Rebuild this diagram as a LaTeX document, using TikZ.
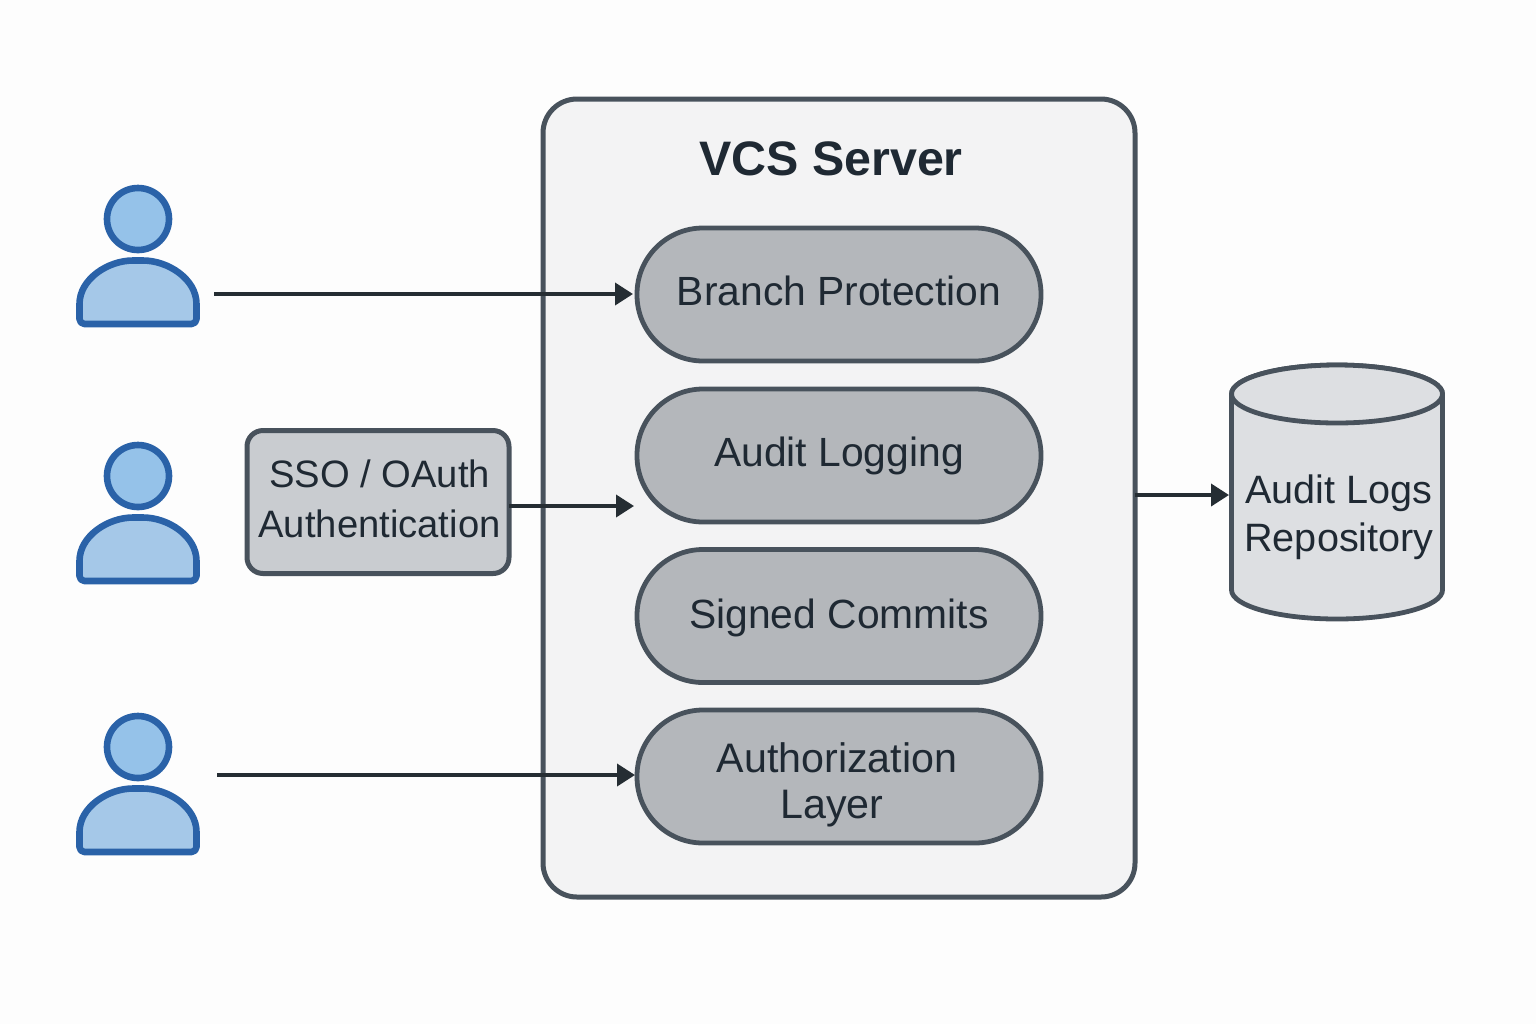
\documentclass[tikz,border=0pt]{standalone}
\usepackage{fontspec}
\setmainfont{Liberation Sans}
\usepackage{xcolor}
\usetikzlibrary{arrows.meta}
\definecolor{pagebg}{HTML}{FDFDFD}
\definecolor{edgegrey}{HTML}{48525C}
\definecolor{servergrey}{HTML}{F3F3F4}
\definecolor{pillgrey}{HTML}{B4B7BB}
\definecolor{ssogrey}{HTML}{C9CCD0}
\definecolor{cylgrey}{HTML}{DDDFE2}
\definecolor{inkdark}{HTML}{1F2933}
\definecolor{arrowdark}{HTML}{252D33}
\definecolor{userblue}{HTML}{2A62A8}
\definecolor{headblue}{HTML}{95C2E9}
\definecolor{bodyblue}{HTML}{A5C8E8}
\tikzset{
    txt/.style={text=inkdark, font=\fontsize{20.4}{24}\selectfont, align=center, inner sep=0pt},
    pill/.style={txt, draw=edgegrey, fill=pillgrey, line width=2.4pt, rounded corners=33pt,
        minimum width=202pt, minimum height=66.5pt, outer sep=0pt, text height=15pt, text depth=4.2pt},
    flow/.style={draw=arrowdark, line width=1.9pt, -{Triangle[length=9pt,width=11pt]}},
    userfig/.pic={
        \draw[userblue, line width=3.3pt, fill=headblue] (0,0) circle (31);
        \draw[userblue, line width=3.3pt, fill=bodyblue, line join=round, rounded corners=2.5pt]
            (-58.5,105) -- (-58.5,90) .. controls (-58.5,60) and (-30,41.5) .. (0,41.5)
            .. controls (30,41.5) and (58.5,60) .. (58.5,90) -- (58.5,105) -- cycle;
    },
}
\begin{document}
\begin{tikzpicture}[x=0.5pt, y=-0.5pt]
    \fill[pagebg] (0,0) rectangle (1536,1024);
    % users
    \pic at (138,219) {userfig};
    \pic at (138,476) {userfig};
    \pic at (138,747) {userfig};
    \coordinate (userA) at (214,294);
    \coordinate (userC) at (217,775);
    % server with its four layers
    \node[draw=edgegrey, fill=servergrey, line width=2.5pt, rounded corners=17pt, outer sep=0pt,
        minimum width=296pt, minimum height=399pt] (server) at (839,498) {};
    \node[txt, font=\fontsize{24.2}{28}\selectfont\bfseries] (title) at (831,159) {VCS Server};
    \node[pill] (branch) at (839,294.5) {Branch Protection};
    \node[pill] (audit) at (839,455.5) {Audit Logging};
    \node[pill, text height=16.5pt] (signed) at (839,616) {Signed Commits};
    \node[pill] (authz) at (839,776.5) {};
    \node[txt, font=\fontsize{20.6}{23}\selectfont] (authztxt) at (837,785) {Authorization\\Layer\hspace*{5pt}};
    % login box
    \node[draw=edgegrey, fill=ssogrey, line width=2.5pt, rounded corners=8pt, outer sep=0pt,
        minimum width=131pt, minimum height=71.5pt] (sso) at (378,502) {};
    \node[txt, font=\fontsize{19.1}{25}\selectfont] (ssotxt) at (379.5,499) {SSO / OAuth\\Authentication};
    % log store
    \draw[edgegrey, line width=2.4pt, fill=cylgrey] (1231.5,394)
        -- (1231.5,590) arc[start angle=180, end angle=0, x radius=105.5, y radius=29]
        -- (1442.5,394) arc[start angle=0, end angle=-180, x radius=105.5, y radius=29] -- cycle;
    \draw[edgegrey, line width=2.4pt, fill=cylgrey] (1337,394) ellipse[x radius=105.5, y radius=29];
    \node[txt, font=\fontsize{19.8}{24}\selectfont] (logtxt) at (1339,517) {Audit Logs\\Repository};
    \coordinate (branchin) at (633,294);
    \coordinate (auditin) at (634,506);
    \coordinate (authzin) at (635,775);
    \coordinate (logsin) at (1229,495);
    % arrows
    \draw[flow] (userA) -- (branchin);
    \draw[flow] (sso.east |- auditin) -- (auditin);
    \draw[flow] (userC) -- (authzin);
    \draw[flow] (server.east |- logsin) -- (logsin);
\end{tikzpicture}
\end{document}
